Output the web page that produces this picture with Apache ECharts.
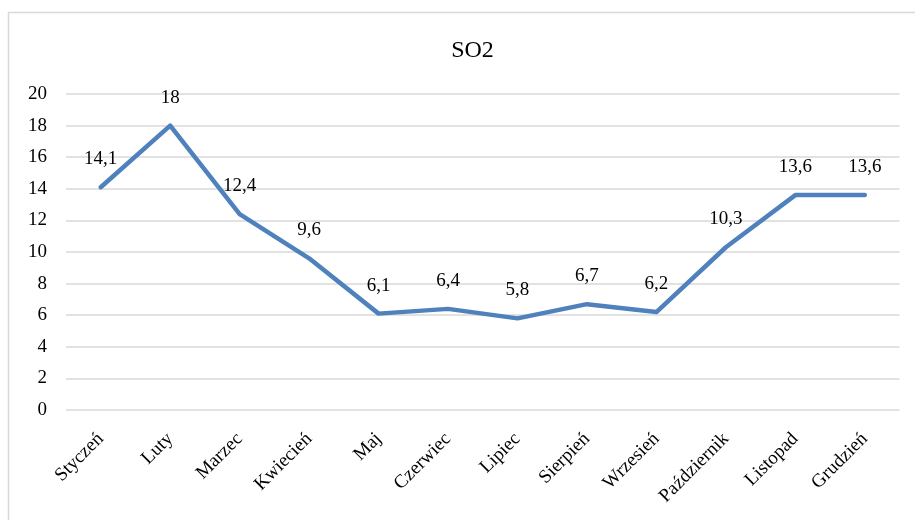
<!DOCTYPE html>
<html>
<head>
<meta charset="utf-8">
<script src="https://cdn.jsdelivr.net/npm/echarts@6/dist/echarts.min.js"></script>
<style>
  html, body { margin: 0; padding: 0; background: #fff; }
  #chart { width: 915px; height: 520px; }
</style>
</head>
<body>
<div id="chart"></div>
<script>
// Monthly SO2 values
const months = ['Styczeń', 'Luty', 'Marzec', 'Kwiecień', 'Maj', 'Czerwiec', 'Lipiec', 'Sierpień', 'Wrzesień', 'Październik', 'Listopad', 'Grudzień'];
const so2 = [14.1, 18, 12.4, 9.6, 6.1, 6.4, 5.8, 6.7, 6.2, 10.3, 13.6, 13.6];
const yTicks = { min: 0, max: 20, interval: 2 };

const font = "'Liberation Serif', 'Times New Roman', serif";
const chart = echarts.init(document.getElementById('chart'));

chart.setOption({
  animation: false,
  backgroundColor: '#fff',
  title: {
    text: 'SO2',
    left: 467.5,
    textAlign: 'center',
    top: 34,
    textStyle: { fontFamily: font, fontSize: 24, fontWeight: 'normal', color: '#000' }
  },
  graphic: [{
    type: 'rect',
    shape: { x: 8.5, y: 12.5, width: 920, height: 520 },
    style: { fill: 'none', stroke: '#d9d9d9', lineWidth: 1.5 },
    silent: true
  }],
  grid: { left: 66, right: 15.5, top: 94, bottom: 110, containLabel: false },
  xAxis: {
    type: 'category',
    data: months,
    boundaryGap: true,
    axisLine: { show: false },
    axisTick: { show: false },
    axisLabel: {
      rotate: 45,
      margin: 26,
      interval: 0,
      fontFamily: font,
      fontSize: 19,
      color: '#000'
    }
  },
  yAxis: {
    type: 'value',
    min: yTicks.min,
    max: yTicks.max,
    interval: yTicks.interval,
    axisLine: { show: false },
    axisTick: { show: false },
    axisLabel: { margin: 19, fontFamily: font, fontSize: 19, color: '#000' },
    splitLine: { lineStyle: { color: '#d9d9d9', width: 1.5 } }
  },
  series: [{
    type: 'line',
    data: so2,
    symbol: 'circle',
    symbolSize: 1,
    showSymbol: true,
    itemStyle: { color: '#4f81bd' },
    lineStyle: { color: '#4f81bd', width: 4.5, cap: 'round', join: 'round' },
    label: {
      show: true,
      position: 'top',
      distance: 18,
      fontFamily: font,
      fontSize: 19,
      color: '#000',
      formatter: p => String(p.value).replace('.', ',')
    }
  }]
});
</script>
</body>
</html>
